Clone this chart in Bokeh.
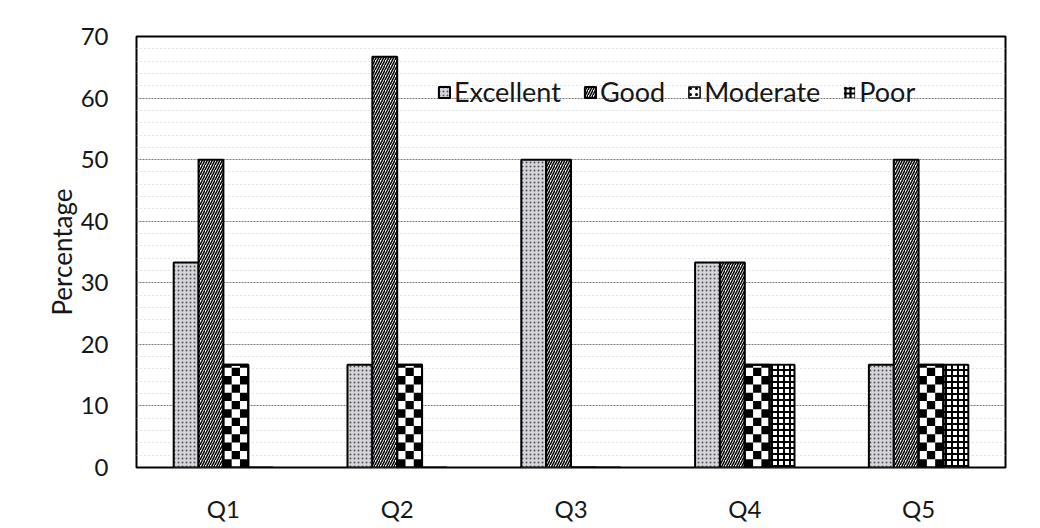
from bokeh.plotting import figure
from bokeh.models import ColumnDataSource, Legend, LegendItem, FactorRange, FixedTicker
from bokeh.transform import dodge
from bokeh.embed import file_html
from bokeh.resources import INLINE

categories = ["Q1", "Q2", "Q3", "Q4", "Q5"]
excellent = [33.3, 16.7, 50.0, 33.3, 16.7]
good = [50.0, 66.7, 50.0, 33.3, 50.0]
moderate = [16.7, 16.7, 0.0, 16.7, 16.7]
poor = [0.0, 0.0, 0.0, 16.7, 16.7]
series_names = ["Excellent", "Good", "Moderate", "Poor"]
y_ticks = [0, 10, 20, 30, 40, 50, 60, 70]

src = ColumnDataSource(dict(cat=categories, Excellent=excellent, Good=good,
                            Moderate=moderate, Poor=poor))

FONT = "Lato"
TEXT = "#161616"

p = figure(x_range=FactorRange(*categories, range_padding=0.0), y_range=(0, 70),
           width=1024, height=528, output_backend="svg", toolbar_location=None,
           min_border_left=136, min_border_right=19, min_border_top=36, min_border_bottom=61)

bw = 0.143
offsets = [-1.5 * bw, -0.5 * bw, 0.5 * bw, 1.5 * bw]
styles = [
    dict(fill_color="#d6d5dc", hatch_pattern="dot", hatch_color="#555555", hatch_scale=4, hatch_weight=1),
    dict(fill_color="white", hatch_pattern="right_diagonal_line", hatch_color="black", hatch_scale=5, hatch_weight=1.5),
    dict(fill_color="white"),
    dict(fill_color="white", hatch_pattern="cross", hatch_color="black", hatch_scale=6, hatch_weight=2),
]

renderers = {}
for name, off, st in zip(series_names, offsets, styles):
    renderers[name] = p.vbar(x=dodge("cat", off, range=p.x_range), top=name, width=bw, source=src,
                             line_color="black", line_width=2, **st)

# checkerboard texture of the "Moderate" bars, built from the Moderate values
cell_h = 1.35
ncols = 3
mod_off = offsets[2]
for j in range(ncols):
    cats, bots, tops = [], [], []
    for c, v in zip(categories, moderate):
        k = 0
        while k * cell_h < v:
            if (k + j) % 2 == 0:
                cats.append(c)
                bots.append(k * cell_h)
                tops.append(min((k + 1) * cell_h, v))
            k += 1
    left = mod_off - bw / 2 + j * bw / ncols
    csrc = ColumnDataSource(dict(cat=cats, bottom=bots, top=tops))
    p.quad(left=dodge("cat", left, range=p.x_range),
           right=dodge("cat", left + bw / ncols, range=p.x_range),
           bottom="bottom", top="top", source=csrc, fill_color="black", line_color=None)
p.vbar(x=dodge("cat", mod_off, range=p.x_range), top="Moderate", width=bw, source=src,
       fill_color=None, line_color="black", line_width=2)

# legend swatches
mod_legend = p.vbar(x=dodge("cat", mod_off, range=p.x_range), top="Moderate", width=bw, source=src,
                    fill_color="white", line_color="black", line_width=1.5,
                    hatch_pattern="dot", hatch_color="black", hatch_scale=6, hatch_weight=2.5,
                    visible=False)
poor_legend = p.vbar(x=dodge("cat", offsets[3], range=p.x_range), top="Poor", width=bw, source=src,
                     fill_color=None, line_color=None,
                     hatch_pattern="cross", hatch_color="black", hatch_scale=5, hatch_weight=2.2,
                     visible=False)

items = [
    LegendItem(label="Excellent", renderers=[renderers["Excellent"]]),
    LegendItem(label="Good", renderers=[renderers["Good"]]),
    LegendItem(label="Moderate", renderers=[mod_legend]),
    LegendItem(label="Poor", renderers=[poor_legend]),
]

legend = Legend(items=items, orientation="horizontal", location=(301, 359),
                background_fill_alpha=0, border_line_alpha=0, padding=0, spacing=22,
                glyph_width=14, glyph_height=14, label_standoff=3,
                label_text_font=FONT, label_text_font_size="27px", label_text_color=TEXT)
p.add_layout(legend, "center")

p.yaxis.ticker = FixedTicker(ticks=y_ticks, minor_ticks=[v for v in range(0, 71, 2) if v % 10])
p.yaxis.axis_label = "Percentage"
p.yaxis.axis_label_text_font = FONT
p.yaxis.axis_label_text_font_size = "26px"
p.yaxis.axis_label_text_font_style = "normal"
p.yaxis.axis_label_text_color = TEXT
p.yaxis.axis_label_standoff = 0
for ax in (p.xaxis, p.yaxis):
    ax.major_label_text_font = FONT
    ax.major_label_text_font_size = "24px"
    ax.major_label_text_color = TEXT
    ax.axis_line_color = None
    ax.major_tick_line_color = None
    ax.minor_tick_line_color = None
p.yaxis.major_label_standoff = 22
p.xaxis.major_label_standoff = 20

p.xgrid.grid_line_color = None
p.ygrid.grid_line_color = "#7a7a7a"
p.ygrid.grid_line_dash = "2 1"
p.ygrid.grid_line_width = 1.2
p.ygrid.minor_grid_line_color = "#c8c8c8"
p.ygrid.minor_grid_line_dash = "1 3"

p.outline_line_color = "black"
p.outline_line_width = 2
p.background_fill_color = "white"
p.border_fill_color = "white"

open("out.html", "w").write(file_html(p, INLINE))
